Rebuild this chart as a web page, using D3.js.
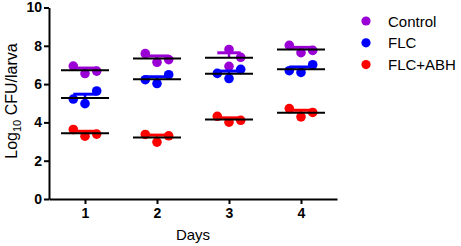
<!DOCTYPE html>
<html>
<head>
<meta charset="utf-8">
<script src="https://cdn.jsdelivr.net/npm/d3@7"></script>
<style>
  body { margin: 0; background: #fff; }
  svg text { font-family: "Liberation Sans", Arial, sans-serif; }
</style>
</head>
<body>
<div id="div_chart"></div>
<script>
// Data (log10 CFU/larva, 3 larvae per group)
var days = [1, 2, 3, 4];
var groups = ["Control", "FLC", "FLC+ABH"];
var colors = ["#9a00d6", "#0000ff", "#ff0000"];

var control = [[6.94, 6.55, 6.68], [7.59, 7.14, 7.28], [7.81, 6.93, 7.40], [8.02, 7.64, 7.76]];
var flc     = [[5.22, 4.98, 5.64], [6.23, 6.03, 6.49], [6.56, 6.29, 6.77], [6.70, 6.61, 7.01]];
var flcAbh  = [[3.63, 3.28, 3.39], [3.37, 2.97, 3.30], [4.32, 4.01, 4.11], [4.72, 4.29, 4.52]];

// horizontal slot of each dot inside its day (-1 left, 0 centre, 1 right)
var slots = {
    "Control": [[-1, 0, 1], [-1, 0, 1], [0, 0, 1], [-1, 0, 1]],
    "FLC":     [[-1, 0, 1], [-1, 0, 1], [-1, 0, 1], [-1, 0, 1]],
    "FLC+ABH": [[-1, 0, 1], [-1, 0, 1], [-1, 0, 1], [-1, 0, 1]]
};

var yTicks = [0, 2, 4, 6, 8, 10];

var series = [control, flc, flcAbh];

var svgWidth = 461, svgHeight = 246;

var svg = d3.select("#div_chart")
    .append("svg")
        .attr("width", svgWidth)
        .attr("height", svgHeight);

var x = d3.scaleLinear().domain([0.5, 4.5]).range([49, 337]);
var y = d3.scaleLinear().domain([0, 10]).range([199, 7.5]);
var slotW = 11.7;   // px between jittered dots
var meanHalf = 24;  // half width of mean line

// Y axis
var yAxis = svg.append("g")
    .attr("transform", "translate(" + x(0.5) + ",0)")
    .call(d3.axisLeft(y).tickValues(yTicks).tickSize(5).tickSizeOuter(0).tickPadding(2));
yAxis.select(".domain").attr("stroke-width", 2);
yAxis.selectAll(".tick line").attr("stroke-width", 2);
yAxis.selectAll("text")
    .style("font-size", "14px").style("font-weight", "bold").attr("fill", "#000");

// X axis
var xAxis = svg.append("g")
    .attr("transform", "translate(0," + y(0) + ")")
    .call(d3.axisBottom(x).tickValues(days).tickFormat(d3.format("d"))
        .tickSize(5).tickSizeOuter(0).tickPadding(4));
xAxis.select(".domain").attr("stroke-width", 2);
xAxis.selectAll(".tick line").attr("stroke-width", 2);
xAxis.selectAll("text")
    .style("font-size", "14px").style("font-weight", "bold").attr("fill", "#000");

// Axis titles
svg.append("text")
    .attr("x", 193).attr("y", 240)
    .attr("text-anchor", "middle")
    .style("font-size", "15px")
    .text("Days");

var yTitle = svg.append("text")
    .attr("transform", "translate(17,101) rotate(-90)")
    .attr("text-anchor", "middle")
    .style("font-size", "16px");
yTitle.append("tspan").text("Log");
yTitle.append("tspan").attr("dy", 4).style("font-size", "11px").text("10");
yTitle.append("tspan").attr("dy", -4).text(" CFU/larva");

// Groups
series.forEach(function (data, gi) {
    var name = groups[gi];
    var col = colors[gi];
    var g = svg.append("g");
    data.forEach(function (vals, di) {
        var cx = x(days[di]);
        var mean = d3.mean(vals);
        var sem = d3.deviation(vals) / Math.sqrt(vals.length);

        // error bar (mean + SEM) with cap
        g.append("line")
            .attr("x1", cx).attr("x2", cx)
            .attr("y1", y(mean)).attr("y2", y(mean + sem))
            .attr("stroke", col).attr("stroke-width", 2.5);
        g.append("line")
            .attr("x1", cx - slotW).attr("x2", cx + slotW)
            .attr("y1", y(mean + sem)).attr("y2", y(mean + sem))
            .attr("stroke", col).attr("stroke-width", 3);

        // dots
        g.selectAll(null)
            .data(vals)
            .enter()
            .append("circle")
            .attr("cx", function (d, i) { return cx + slots[name][di][i] * slotW; })
            .attr("cy", function (d) { return y(d); })
            .attr("r", 4.8)
            .attr("fill", col);

        // mean line
        g.append("line")
            .attr("x1", cx - meanHalf).attr("x2", cx + meanHalf)
            .attr("y1", y(mean)).attr("y2", y(mean))
            .attr("stroke", "#000").attr("stroke-width", 2);
    });
});

// Legend
var legend = svg.append("g");
groups.forEach(function (name, i) {
    var ly = 21 + i * 21.8;
    legend.append("circle")
        .attr("cx", 366).attr("cy", ly).attr("r", 4.6)
        .attr("fill", colors[i]);
    legend.append("text")
        .attr("x", 388).attr("y", ly + 5.5)
        .style("font-size", "15px")
        .text(name);
});
</script>
</body>
</html>
